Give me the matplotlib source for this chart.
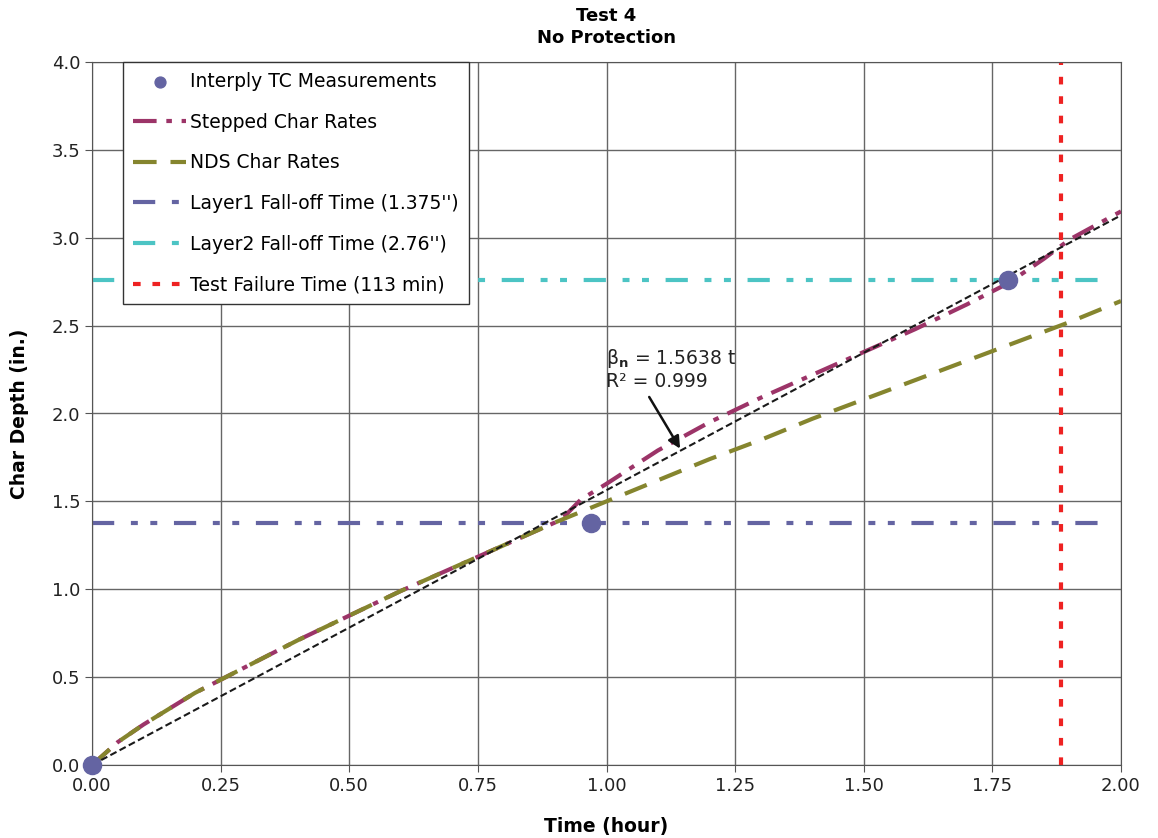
import numpy as np
import matplotlib
matplotlib.use('Agg')
from matplotlib import pyplot as plt

plt.rcParams['lines.scale_dashes'] = False

# measured char depth from interply thermocouples
tc_time = [0.0, 0.97, 1.78]
tc_depth = [0.0, 1.375, 2.76]

# NDS char rate curve
nds_time = [0.0, 0.05, 0.1, 0.2, 0.3, 0.4, 0.5, 0.6, 0.7, 0.8, 0.9, 1.0,
            1.1, 1.2, 1.3, 1.4, 1.5, 1.6, 1.7, 1.8, 1.9, 2.0]
nds_depth = [0.0, 0.13, 0.23, 0.41, 0.56, 0.71, 0.85, 0.99, 1.12, 1.25, 1.38, 1.50,
             1.62, 1.74, 1.85, 1.97, 2.08, 2.19, 2.30, 2.41, 2.52, 2.64]

# stepped char rate curve
step_time = [0.0, 0.05, 0.1, 0.2, 0.3, 0.4, 0.5, 0.6, 0.7, 0.8, 0.9, 0.92, 0.95,
             1.0, 1.1, 1.2, 1.25, 1.3, 1.4, 1.5, 1.6, 1.7, 1.78, 1.85, 1.9, 2.0]
step_depth = [0.0, 0.13, 0.23, 0.41, 0.56, 0.71, 0.85, 0.99, 1.12, 1.25, 1.38, 1.42, 1.51,
              1.60, 1.79, 1.95, 2.02, 2.09, 2.22, 2.35, 2.48, 2.62, 2.74, 2.88, 2.99, 3.15]

fit_slope = 1.5638
fit_time = [0.0, 2.0]
layer_time = [0.0, 1.975]
layer1_depth = 1.375
layer2_depth = 2.76
failure_time = 113 / 60.0

fig = plt.figure(figsize=(11.58, 8.38), dpi=100)
ax = fig.add_axes([92 / 1158, 73 / 838, 1029 / 1158, 703 / 838])

fs = 13
layer_dash = (16, 12, 5, 9, 5, 12)
ax.plot(step_time, step_depth, color='#9C3468', lw=3, dashes=(17, 7, 4, 7),
        label='Stepped Char Rates', zorder=3)
ax.plot(nds_time, nds_depth, color='#85852E', lw=3, dashes=(17, 10),
        label='NDS Char Rates', zorder=3)
ax.plot(layer_time, [layer1_depth] * 2, color='#6464A2', lw=3, dashes=layer_dash,
        label="Layer1 Fall-off Time (1.375'')", zorder=2)
ax.plot(layer_time, [layer2_depth] * 2, color='#4CC4C4', lw=3, dashes=layer_dash,
        label="Layer2 Fall-off Time (2.76'')", zorder=2)
ax.axvline(failure_time, color='#EE2222', lw=3, dashes=(5.5, 8.5),
           label='Test Failure Time (113 min)', zorder=2)
ax.plot(fit_time, [fit_slope * t for t in fit_time], color='#1a1a1a', lw=1.5,
        dashes=(5, 2.5), zorder=4)
ax.scatter(tc_time, tc_depth, s=170, color='#6464A2', zorder=5, clip_on=False,
           label='Interply TC Measurements')

ax.text(1.0, 2.38, 'β$_\\mathbf{n}$ = 1.5638 t\nR² = 0.999', fontsize=13.5,
        va='top', ha='left', color='#222222', linespacing=1.15, zorder=6)
ax.annotate('', xy=(1.143, 1.80), xytext=(1.083, 2.094),
            arrowprops=dict(arrowstyle='-|>', color='#111111', lw=1.8, mutation_scale=18,
                            shrinkA=0, shrinkB=0),
            zorder=6)

ax.set_xlim(0, 2)
ax.set_ylim(0, 4)
ax.set_xticks(np.arange(0, 2.01, 0.25))
ax.set_xticklabels(['%.2f' % v for v in np.arange(0, 2.01, 0.25)])
ax.set_yticks(np.arange(0, 4.01, 0.5))
ax.set_yticklabels(['%.1f' % v for v in np.arange(0, 4.01, 0.5)])
ax.grid(True, color='#666666', lw=1)
ax.set_axisbelow(True)
for sp in ax.spines.values():
    sp.set_color('#555555')
ax.tick_params(labelsize=fs, colors='#222222', color='#555555', length=5)

ax.set_xlabel('Time (hour)', fontsize=13.5, fontweight='bold', labelpad=16)
ax.set_ylabel('Char Depth (in.)', fontsize=13.5, fontweight='bold', labelpad=16)
ax.set_title('Test 4\nNo Protection', fontsize=13, fontweight='bold', pad=14,
             linespacing=1.25)

handles, labels = ax.get_legend_handles_labels()
order = [5, 0, 1, 2, 3, 4]
leg = ax.legend([handles[i] for i in order], [labels[i] for i in order],
                loc='upper left', bbox_to_anchor=(31 / 1029, 1.0), fontsize=13.5,
                frameon=True, fancybox=False, edgecolor='#333333', framealpha=1,
                labelspacing=1.15, handlelength=2.8, handletextpad=0.2,
                borderpad=0.55, borderaxespad=0, scatterpoints=1, markerscale=0.6)
leg.get_frame().set_linewidth(1)
leg.set_zorder(10)

fig.savefig('out.png', dpi=100)
